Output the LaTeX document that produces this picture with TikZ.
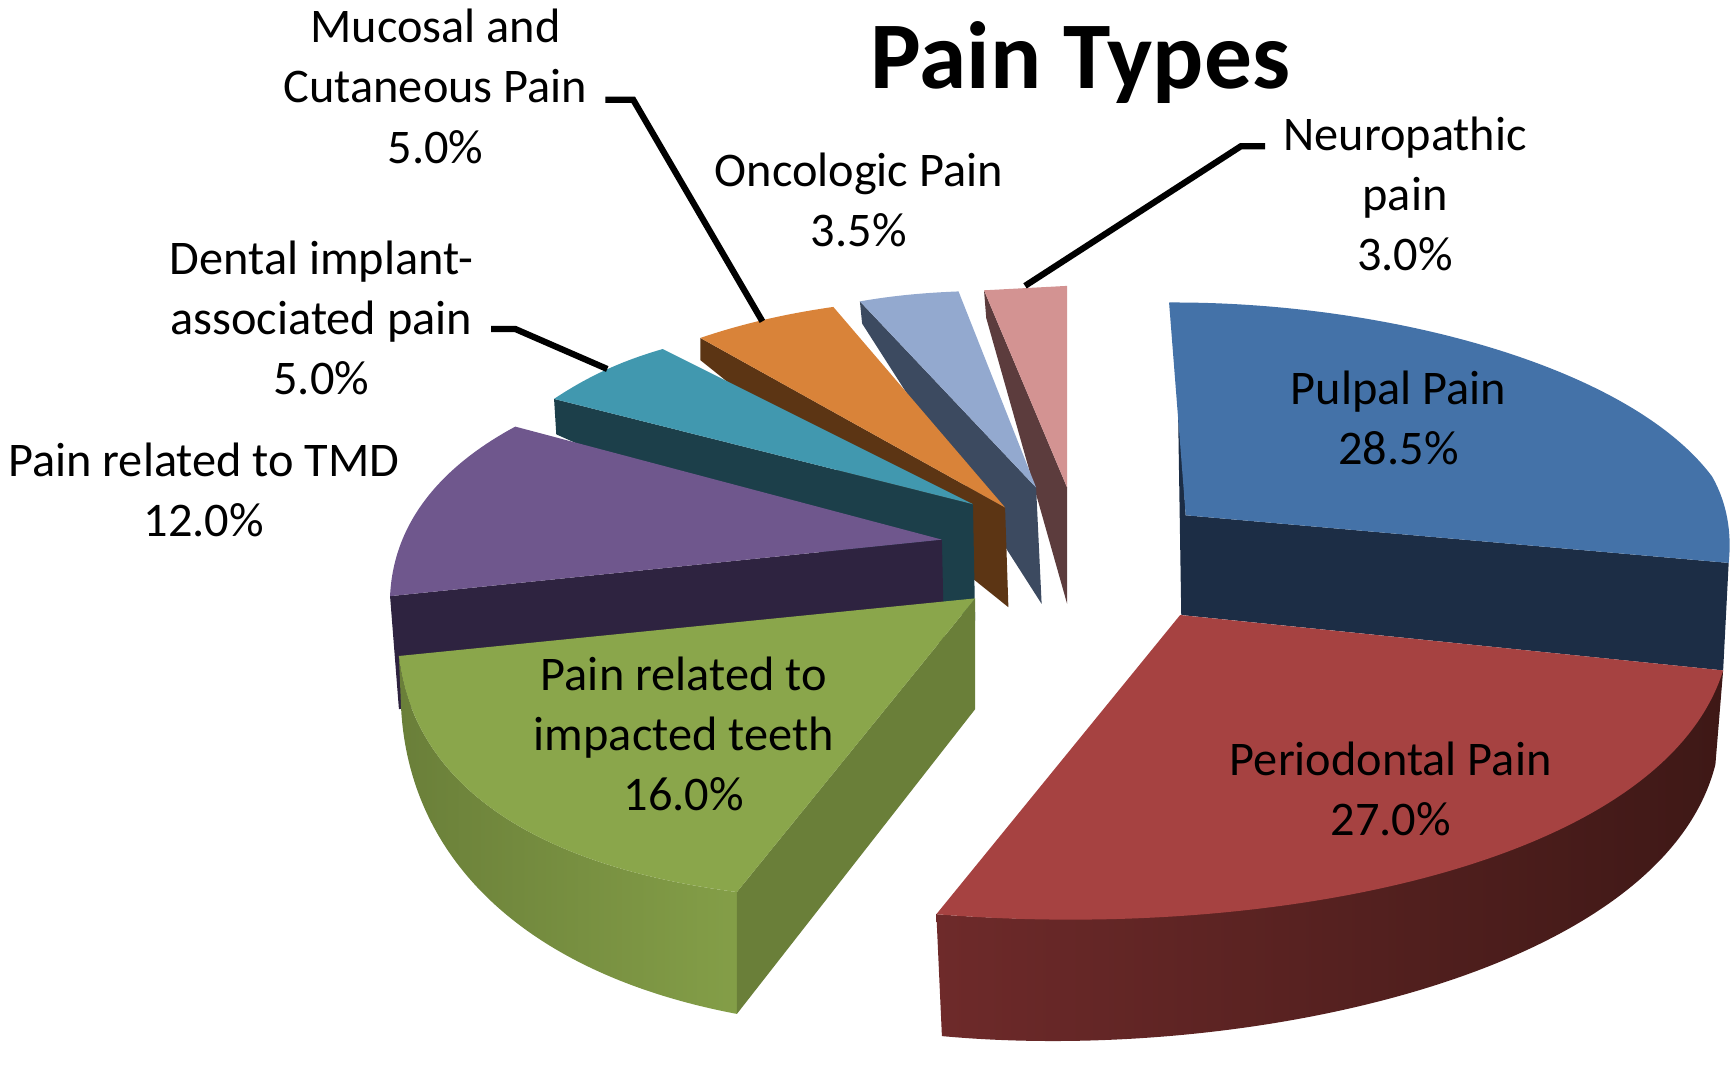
\documentclass[tikz,border=0pt]{standalone}
\usepackage{fontspec}
\setmainfont{Carlito}
\usepackage{xcolor}
\usepackage{tikz}
\usetikzlibrary{positioning, calc}

\definecolor{pulpal}{HTML}{4472A8}
\definecolor{pulpalside}{HTML}{1C2D45}
\definecolor{perio}{HTML}{A64241}
\definecolor{periosidel}{HTML}{6E2A2A}
\definecolor{periosider}{HTML}{3E1816}
\definecolor{impact}{HTML}{8AA64B}
\definecolor{impactside}{HTML}{6A7F39}
\definecolor{tmd}{HTML}{6F578D}
\definecolor{tmdside}{HTML}{2E2340}
\definecolor{implant}{HTML}{4198AF}
\definecolor{implantside}{HTML}{1C3F4A}
\definecolor{mucosal}{HTML}{D98339}
\definecolor{mucosalside}{HTML}{5C3514}
\definecolor{onco}{HTML}{93A9CF}
\definecolor{oncoside}{HTML}{3C4A60}
\definecolor{neuro}{HTML}{D39392}
\definecolor{neuroside}{HTML}{5C3C3D}

\tikzset{
	lbl/.style={align=center, font=\fontsize{12.4}{15.4}\selectfont},
	leader/.style={line width=1.6pt, black},
}

\begin{document}
\begin{tikzpicture}[x=0.01cm, y=-0.01cm]
	\useasboundingbox (0,0) rectangle (1563,965);
	
	% Small slices at the back
	\fill[neuroside] (888,262) -- (963,440) -- (963,545) -- (890,287) -- cycle;
	\fill[neuro] (888,262) -- (963,258) -- (963,440) -- cycle;
	\fill[oncoside] (776,272) -- (935,440) -- (940,545) -- (778,292) -- cycle;
	\fill[onco] (776,272) .. controls (810,266) and (840,264) .. (865,263) -- (935,440) -- cycle;
	\fill[mucosalside] (632,305) -- (907,458) -- (910,548) -- (632,325) -- cycle;
	\fill[mucosal] (632,305) .. controls (670,292) and (710,283) .. (752,277) -- (907,458) -- cycle;
	\fill[implantside] (500,360) -- (878,455) -- (880,560) -- (502,392) -- cycle;
	\fill[implant] (500,360) .. controls (530,340) and (560,326) .. (598,315) -- (878,455) -- cycle;
	
	% TMD
	\fill[tmdside] (352,538) -- (850,487) -- (852,580) -- (360,640) -- cycle;
	\fill[tmd] (850,487) -- (465,385) .. controls (400,420) and (355,470) .. (352,538) -- cycle;
	
	% Pulpal
	\fill[pulpalside] (1058,273) -- (1070,465) -- (1560,508) -- (1555,605) -- (1066,555) -- (1062,300) -- cycle;
	\fill[pulpal] (1055,273) .. controls (1250,272) and (1470,330) .. (1545,430)
	.. controls (1562,460) and (1562,490) .. (1560,508) -- (1070,465) -- cycle;
	
	% Impacted teeth
	\shade[left color=impactside, right color=impact!80!impactside] (360,592) .. controls (372,700) and (470,780) .. (665,805) -- (665,915)
	.. controls (480,880) and (370,780) .. (362,640) -- cycle;
	\fill[impactside] (880,540) -- (880,640) -- (665,915) -- (665,805) -- cycle;
	\fill[impact] (880,540) -- (360,592) .. controls (372,700) and (470,780) .. (665,805) -- cycle;
	
	% Periodontal
	\shade[left color=periosidel, right color=periosider] (845,825) .. controls (1100,845) and (1470,800) .. (1555,605)
	-- (1548,690) .. controls (1500,880) and (1120,960) .. (850,935) -- cycle;
	\fill[perio] (1065,555) -- (1555,605) .. controls (1500,780) and (1150,850) .. (845,825) -- cycle;
	
	% Leader lines
	\coordinate (mucEnd) at (688,290);
	\coordinate (impEnd) at (548,333);
	\coordinate (neuEnd) at (925,258);
	
	% Labels
	\node[font=\fontsize{24.5}{28}\selectfont\bfseries] (title) at (975,56) {Pain Types};
	\node[lbl] (mucLbl) at (393,78) {Mucosal and\\Cutaneous Pain\\5.0\%};
	\node[lbl] (oncLbl) at (775,180) {Oncologic Pain\\3.5\%};
	\node[lbl] (neuLbl) at (1268,175) {Neuropathic\\pain\\3.0\%};
	\node[lbl] (impLbl) at (290,287) {Dental implant-\\associated pain\\5.0\%};
	\node[lbl] (tmdLbl) at (184,442) {Pain related to TMD\\12.0\%};
	\node[lbl] (pulLbl) at (1262,377) {Pulpal Pain\\28.5\%};
	\node[lbl] (perLbl) at (1255,712) {Periodontal Pain\\27.0\%};
	\node[lbl] (itLbl) at (617,662) {Pain related to\\impacted teeth\\16.0\%};
	
	\draw[leader] (mucLbl.east |- 0,90) ++(4,0) coordinate (mucA) -- ++(25,0) -- (mucEnd);
	\draw[leader] (impLbl.east |- 0,297) ++(4,0) coordinate (impA) -- ++(22,0) -- (impEnd);
	\draw[leader] (neuLbl.west |- 0,132) ++(-4,0) coordinate (neuA) -- ++(-22,0) -- (neuEnd);
\end{tikzpicture}
\end{document}
